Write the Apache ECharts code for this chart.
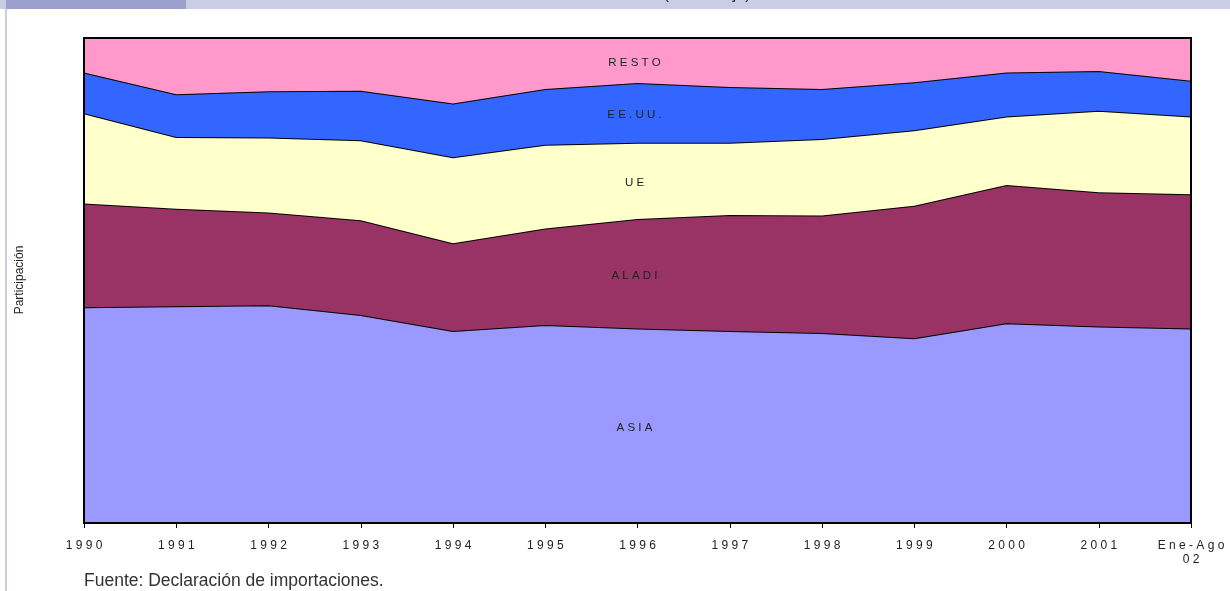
<!DOCTYPE html>
<html>
<head>
<meta charset="utf-8">
<script src="https://cdn.jsdelivr.net/npm/echarts@6/dist/echarts.min.js"></script>
<style>
html, body { margin: 0; padding: 0; background: #fff; }
#chart { width: 1230px; height: 591px; }
</style>
</head>
<body>
<div id="chart"></div>
<script>
// participacion por origen, en %
const years = ['1990', '1991', '1992', '1993', '1994', '1995', '1996', '1997', '1998', '1999', '2000', '2001', 'Ene-Ago 02'];
const asia  = [44.5, 44.7, 44.9, 42.9, 39.6, 40.8, 40.1, 39.6, 39.2, 38.1, 41.2, 40.5, 40.1];
const aladi = [21.4, 20.1, 19.1, 19.5, 18.1, 19.9, 22.6, 23.9, 24.2, 27.3, 28.5, 27.7, 27.7];
const ue    = [18.6, 14.8, 15.5, 16.5, 17.7, 17.3, 15.7, 14.9, 15.8, 15.6, 14.1, 16.8, 16.0];
const eeuu  = [8.4, 8.8, 9.5, 10.2, 11.1, 11.5, 12.3, 11.5, 10.3, 9.9, 9.1, 8.2, 7.4];
const resto = [7.1, 11.6, 11.0, 10.9, 13.5, 10.5, 9.3, 10.1, 10.5, 9.1, 7.1, 6.8, 8.8];

const names = ['ASIA', 'ALADI', 'UE', 'EE.UU.', 'RESTO'];
const colors = ['#9999FF', '#993366', '#FFFFCC', '#3366FF', '#FF99CC'];
const values = [asia, aladi, ue, eeuu, resto];

function spaced(s) {
    return s.split('').join(' ');
}

let myChart = echarts.init(document.getElementById('chart'));

let series = values.map(function (v, i) {
    return {
        name: names[i],
        type: 'line',
        stack: 'total',
        data: v,
        symbol: 'none',
        smooth: false,
        lineStyle: { color: '#000', width: 2 },
        areaStyle: { color: colors[i], opacity: 1 },
        z: 2 + i
    };
});

let option = {
    animation: false,
    backgroundColor: '#fff',
    grid: {
        left: 84,
        right: 39,
        top: 38,
        bottom: 68,
        show: true,
        borderColor: '#000',
        borderWidth: 2,
        z: 10
    },
    xAxis: {
        type: 'category',
        data: years,
        boundaryGap: false,
        axisLine: { lineStyle: { color: '#000', width: 2 } },
        axisTick: { length: 5, lineStyle: { color: '#000', width: 1 } },
        axisLabel: {
            margin: 16,
            interval: 0,
            fontFamily: 'Liberation Sans',
            fontSize: 12,
            color: '#222',
            lineHeight: 14,
            formatter: function (v) {
                return v.split(' ').map(spaced).join('\n');
            }
        },
        z: 11
    },
    yAxis: {
        type: 'value',
        min: 0,
        max: 100,
        axisLine: { show: false },
        axisTick: { show: false },
        axisLabel: { show: false },
        splitLine: { show: false }
    },
    series: series
};

myChart.setOption(option);

// etiquetas de cada franja, centradas en 1996
let labels = [];
let base = 0;
values.forEach(function (v, i) {
    let k = years.indexOf('1996');
    let mid = base + v[k] / 2;
    base += v[k];
    let p = myChart.convertToPixel({ gridIndex: 0 }, [k, mid]);
    labels.push({
        type: 'text',
        x: p[0] - 3,
        y: p[1] + 2,
        z: 20,
        style: {
            text: spaced(names[i]),
            fill: '#222',
            font: '11.5px "Liberation Sans"',
            textAlign: 'center',
            textVerticalAlign: 'middle'
        }
    });
});

myChart.setOption({
    graphic: [
        { type: 'rect', shape: { x: 0, y: 0, width: 1230, height: 9 }, style: { fill: '#CBCCE6' }, z: 1 },
        { type: 'rect', shape: { x: 6, y: 0, width: 180, height: 9 }, style: { fill: '#9BA0CE' }, z: 2 },
        { type: 'rect', shape: { x: 5, y: 9, width: 2, height: 582 }, style: { fill: '#CBCCE6' }, z: 1 },
        {
            type: 'text', x: 707, y: 3, z: 3,
            style: { text: '(Porcentaje)', fill: '#222', font: '16px "Liberation Sans"', textAlign: 'center', textVerticalAlign: 'bottom' }
        },
        {
            type: 'text', x: 20, y: 280, rotation: Math.PI / 2, z: 3,
            style: { text: 'Participación', fill: '#222', font: '12px "Liberation Sans"', textAlign: 'center', textVerticalAlign: 'middle' }
        },
        {
            type: 'text', x: 84, y: 581, z: 3,
            style: { text: 'Fuente: Declaración de importaciones.', fill: '#333', font: '17.5px "Liberation Sans"', textAlign: 'left', textVerticalAlign: 'middle' }
        }
    ].concat(labels)
});
</script>
</body>
</html>
